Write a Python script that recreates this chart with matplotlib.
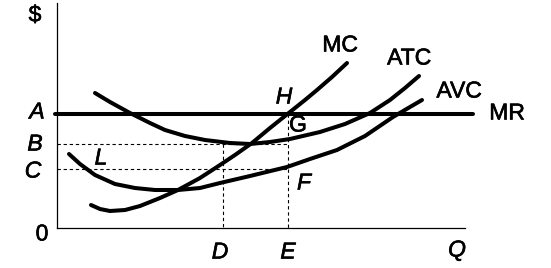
import matplotlib
matplotlib.use("Agg")
import matplotlib.pyplot as plt
import matplotlib.patheffects as pe

# Curves (x = quantity position, y = price position, pixel-like units, y grows downward)
mc_x = [91, 100, 110, 125, 140, 160, 178, 200, 220, 235, 252, 270, 290, 305, 317, 332, 347]
mc_y = [205, 209, 211, 210, 206, 198, 190, 178, 165, 155, 143, 128, 112, 100, 90, 77, 63]

atc_x = [95, 110, 130, 150, 165, 185, 205, 230, 250, 270, 290, 320, 345, 370, 390, 405, 419]
atc_y = [93, 102, 113, 123, 130, 136, 140, 143, 144, 142, 139, 132, 124, 113, 100, 88, 76]

avc_x = [69, 80, 95, 115, 135, 155, 178, 200, 220, 250, 287, 310, 337, 365, 393, 410, 422]
avc_y = [154, 164, 175, 184, 188, 190, 190, 188, 183, 176, 167, 159, 150, 136, 117, 107, 100]

mr_x = [55, 473]
mr_level = 114

# Reference levels and quantities
price_levels = {"A": 114, "B": 144, "C": 169}
quantities = {"D": 223, "E": 288}

fig = plt.figure(figsize=(5.51, 2.68), dpi=100)
ax = fig.add_axes([0, 0, 1, 1])
ax.set_xlim(0, 551)
ax.set_ylim(268, 0)
ax.axis("off")

font = "Liberation Sans"
fs = 16.5
k = "black"

# axes
ax.plot([57, 57], [3, 228], color=k, lw=0.9)
ax.plot([57, 465], [228, 228], color=k, lw=0.9)

# dashed guides
dash = (0, (3, 2.5))
ax.plot([57, quantities["E"]], [price_levels["B"]] * 2, color=k, lw=0.8, ls=dash)
ax.plot([57, quantities["E"]], [price_levels["C"]] * 2, color=k, lw=0.8, ls=dash)
ax.plot([quantities["D"]] * 2, [price_levels["B"], 228], color=k, lw=0.8, ls=dash)
ax.plot([quantities["E"]] * 2, [price_levels["A"], 228], color=k, lw=0.8, ls=dash)

# curves
lw = 2.9
ax.plot(mr_x, [mr_level] * 2, color=k, lw=lw, solid_capstyle="round")
for xs, ys in [(mc_x, mc_y), (atc_x, atc_y), (avc_x, avc_y)]:
    ax.plot(xs, ys, color=k, lw=lw, solid_capstyle="round", solid_joinstyle="round")

effects = [pe.withStroke(linewidth=0.45, foreground=k)]

def t(x, y, s, italic=False):
    ax.text(x, y, s, family=font, fontsize=fs, style="italic" if italic else "normal",
            ha="center", va="center", color=k, path_effects=effects)

t(35, 15, "$")
t(37, 112, "A", True)
t(35, 144, "B", True)
t(33, 171, "C", True)
t(42, 234, "0")
t(101, 158, "L", True)
t(284, 97, "H", True)
t(298, 125, "G")
t(304, 183, "F", True)
t(340, 45, "MC")
t(409, 58, "ATC")
t(459, 91, "AVC")
t(507, 113, "MR")
t(220, 252, "D", True)
t(288, 252, "E", True)
t(457, 250, "Q", True)

fig.savefig("out.png", dpi=100)
